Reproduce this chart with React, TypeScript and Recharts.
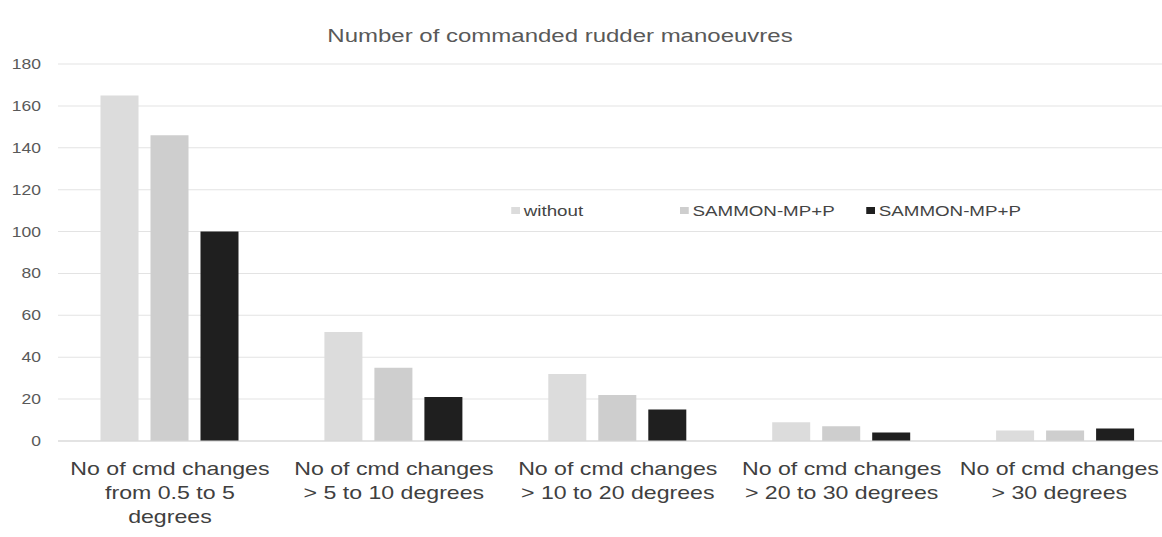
import { BarChart, Bar, XAxis, YAxis, CartesianGrid, Legend } from "recharts";

// The reference is a horizontally stretched export, so the chart is drawn
// narrower and widened by STRETCH.
const STRETCH = 1.25;

const categories = [
  "No of cmd changes\nfrom 0.5 to 5\ndegrees",
  "No of cmd changes\n> 5 to 10 degrees",
  "No of cmd changes\n> 10 to 20 degrees",
  "No of cmd changes\n> 20 to 30 degrees",
  "No of cmd changes\n> 30 degrees",
];
const withoutValues = [165, 52, 32, 9, 5];
const sammonAValues = [146, 35, 22, 7, 5];
const sammonBValues = [100, 21, 15, 4, 6];
const yTicks = [0, 20, 40, 60, 80, 100, 120, 140, 160, 180];

const seriesKeys = ["without", "sammonA", "sammonB"];
const seriesNames = ["without", "SAMMON-MP+P", "SAMMON-MP+P"];
const seriesColors = ["#dcdcdc", "#cecece", "#1f1f1f"];

const data = categories.map((c, i) => ({
  category: c,
  without: withoutValues[i],
  sammonA: sammonAValues[i],
  sammonB: sammonBValues[i],
}));

const FONT = "'Liberation Sans', Arial, sans-serif";

function CategoryTick({ x, y, payload, index }: any) {
  const lines = String(payload.value).split("\n");
  // last label sits against the right edge, pull it in a touch
  const cx = index === categories.length - 1 ? x - 5 : x;
  return (
    <text x={cx} y={y + 32} textAnchor="middle" fill="#404040" fontSize={18.5} fontFamily={FONT}>
      {lines.map((l, i) => (
        <tspan key={i} x={cx} dy={i === 0 ? 0 : 24}>
          {l}
        </tspan>
      ))}
    </text>
  );
}

function renderLegend({ payload }: any) {
  const widths = [135, 149, 150];
  const items = [...(payload ?? [])].sort(
    (a: any, b: any) => seriesKeys.indexOf(a.dataKey) - seriesKeys.indexOf(b.dataKey)
  );
  return (
    <div style={{ display: "flex", fontFamily: FONT, fontSize: 15, color: "#444" }}>
      {items.map((p: any, i: number) => (
        <div key={i} style={{ width: widths[i], display: "flex", alignItems: "center" }}>
          <span
            style={{
              width: 7,
              height: 7,
              background: p.color,
              marginRight: 3,
              display: "inline-block",
            }}
          />
          <span>{p.value}</span>
        </div>
      ))}
    </div>
  );
}

export default function App() {
  return (
    <div
      style={{
        position: "fixed",
        top: 0,
        left: 0,
        width: 1162,
        height: 537,
        overflow: "hidden",
        background: "#fff",
      }}
    >
      <div
        style={{
          position: "relative",
          width: 948,
          height: 537,
          transform: `scale(${STRETCH}, 1)`,
          transformOrigin: "0 0",
        }}
      >
        <div
          style={{
            position: "absolute",
            top: 25,
            left: 448,
            transform: "translateX(-50%)",
            whiteSpace: "nowrap",
            fontFamily: FONT,
            fontSize: 19.2,
            color: "#595959",
          }}
        >
          Number of commanded rudder manoeuvres
        </div>
        <BarChart
          width={950}
          height={537}
          data={data}
          margin={{ top: 64, right: 8, bottom: 0, left: 0 }}
          barSize={30.4}
          barGap={9.6}
        >
          <CartesianGrid vertical={false} stroke="#e3e3e3" />
          <XAxis
            dataKey="category"
            tick={<CategoryTick />}
            tickLine={false}
            axisLine={{ stroke: "#d6d6d6" }}
            tickSize={0}
            height={96}
            interval={0}
          />
          <YAxis
            domain={[0, 180]}
            ticks={yTicks}
            width={46.4}
            axisLine={false}
            tickLine={false}
            tickSize={0}
            tickMargin={13.6}
            tick={{ fill: "#595959", fontSize: 14, fontFamily: FONT }}
          />
          <Legend
            content={renderLegend}
            verticalAlign="middle"
            align="center"
            wrapperStyle={{ position: "absolute", top: 202, left: 409, width: 460 }}
          />
          <Bar dataKey="without" name={seriesNames[0]} fill={seriesColors[0]} isAnimationActive={false} />
          <Bar dataKey="sammonA" name={seriesNames[1]} fill={seriesColors[1]} isAnimationActive={false} />
          <Bar dataKey="sammonB" name={seriesNames[2]} fill={seriesColors[2]} isAnimationActive={false} />
        </BarChart>
      </div>
    </div>
  );
}
